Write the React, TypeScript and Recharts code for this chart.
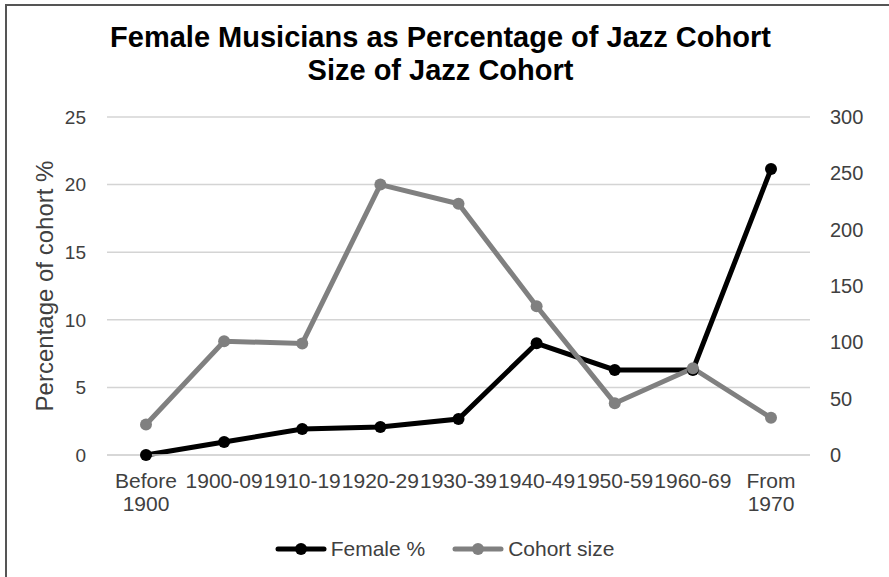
import React from 'react';
import { LineChart, Line, XAxis, YAxis, CartesianGrid, Legend } from 'recharts';

const categories = ['Before 1900', '1900-09', '1910-19', '1920-29', '1930-39', '1940-49', '1950-59', '1960-69', 'From 1970'];
const femalePct = [0, 0.96, 1.92, 2.07, 2.66, 8.26, 6.29, 6.29, 21.15];
const cohortSize = [27, 101, 99, 240, 223, 132, 46, 77, 33];
const leftTicks = [0, 5, 10, 15, 20, 25];
const rightTicks = [0, 50, 100, 150, 200, 250, 300];
const seriesNames = ['Female %', 'Cohort size'];

const data = categories.map((c, i) => ({ cat: c, female: femalePct[i], cohort: cohortSize[i] }));

const FONT = '"Liberation Sans", Arial, sans-serif';
const TEXT = '#404040';

const XTick = (props: any) => {
  const { x, y, payload } = props;
  const lines = String(payload.value).split(' ');
  return (
    <text x={x} y={y} textAnchor="middle" fill={TEXT} fontSize={21} fontFamily={FONT}>
      {lines.map((l, i) => (
        <tspan key={i} x={x} dy={i === 0 ? 33 : 23}>{l}</tspan>
      ))}
    </text>
  );
};

const renderLegend = (props: any) => {
  const items = [...(props.payload || [])].sort(
    (a: any, b: any) => seriesNames.indexOf(a.value) - seriesNames.indexOf(b.value)
  );
  return (
    <div style={{ display: 'flex', justifyContent: 'center', alignItems: 'center', height: 32, gap: 27, fontFamily: FONT, fontSize: 21, color: TEXT }}>
      {items.map((it: any, i: number) => (
        <div key={i} style={{ display: 'flex', alignItems: 'center' }}>
          <svg width={52} height={14} style={{ display: 'block' }}>
            <line x1={3} y1={7} x2={49} y2={7} stroke={it.color} strokeWidth={5} strokeLinecap="round" />
            <circle cx={26} cy={7} r={6} fill={it.color} />
          </svg>
          <span style={{ marginLeft: 4 }}>{it.value}</span>
        </div>
      ))}
    </div>
  );
};

const YLabel = (props: any) => {
  const vb = props.viewBox || {};
  const cy = vb.y + vb.height / 2;
  return (
    <text x={44} y={cy} transform={`rotate(-90, 44, ${cy})`} textAnchor="middle" dominantBaseline="central" fill={TEXT} fontSize={24} fontFamily={FONT}>
      Percentage of cohort %
    </text>
  );
};

export default function App() {
  return (
    <div style={{ position: 'absolute', left: 0, top: 0, width: 889, height: 577, background: '#fff', overflow: 'hidden' }}>
      <div style={{ position: 'absolute', left: 5, top: 4, width: 884, height: 573, borderTop: '2px solid #555', borderLeft: '2px solid #555', boxSizing: 'border-box' }} />
      <div style={{ position: 'absolute', left: 0, top: 20.5, width: 881, textAlign: 'center', fontFamily: FONT, fontWeight: 'bold', fontSize: 29, lineHeight: '33px', color: '#000' }}>
        <div>Female Musicians as Percentage of Jazz Cohort</div>
        <div>Size of Jazz Cohort</div>
      </div>
      <div style={{ position: 'absolute', left: 0, top: 0 }}>
        <LineChart width={889} height={577} data={data} margin={{ top: 117, right: 0, bottom: 0, left: 0 }}>
          <CartesianGrid yAxisId="left" vertical={false} stroke="#d4d4d4" strokeWidth={1.5} />
          <XAxis dataKey="cat" interval={0} height={78} padding={{ left: 39, right: 39 }} tickSize={0} tickMargin={0} tickLine={false} axisLine={{ stroke: '#d4d4d4', strokeWidth: 1.5 }} tick={<XTick />} />
          <YAxis yAxisId="left" width={107} domain={[0, 25]} ticks={leftTicks} axisLine={false} tickLine={false} tickSize={0} tickMargin={21}
            tick={{ fill: TEXT, fontSize: 19, fontFamily: FONT }} label={<YLabel />} />
          <YAxis yAxisId="right" orientation="right" width={79} domain={[0, 300]} ticks={rightTicks} axisLine={false} tickLine={false} tickSize={0} tickMargin={20}
            tick={{ fill: TEXT, fontSize: 20, fontFamily: FONT }} />
          <Legend verticalAlign="bottom" height={44} content={renderLegend} wrapperStyle={{ left: 0, width: 889 }} />
          <Line yAxisId="left" type="linear" dataKey="female" name={seriesNames[0]} stroke="#000" strokeWidth={5} dot={{ r: 6, fill: '#000', stroke: '#000', strokeWidth: 0 }} activeDot={false} isAnimationActive={false} />
          <Line yAxisId="right" type="linear" dataKey="cohort" name={seriesNames[1]} stroke="#808080" strokeWidth={5} dot={{ r: 6, fill: '#808080', stroke: '#808080', strokeWidth: 0 }} activeDot={false} isAnimationActive={false} />
        </LineChart>
      </div>
    </div>
  );
}
